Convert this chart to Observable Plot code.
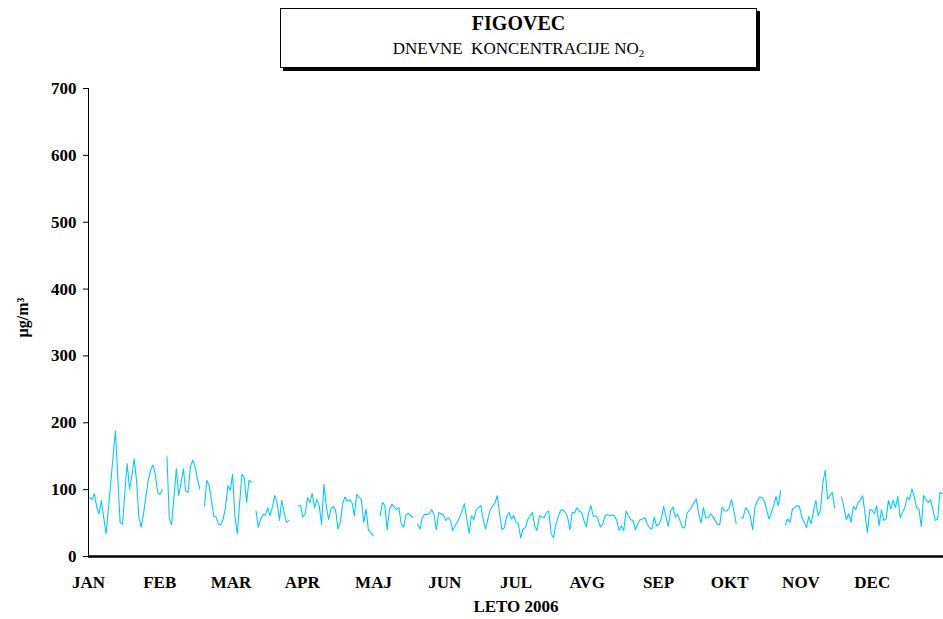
<!DOCTYPE html>
<html>
<head>
<meta charset="utf-8">
<script src="https://cdn.jsdelivr.net/npm/d3@7"></script>
<script src="https://cdn.jsdelivr.net/npm/@observablehq/plot@0.6"></script>
<style>
  html, body { margin: 0; padding: 0; background: #fff; }
  #wrap { position: relative; width: 943px; height: 619px; overflow: hidden; }
  #wrap svg { position: absolute; left: 0; top: 0; }
  #wrap svg text { font-weight: bold; }
  #titlebox {
    position: absolute; left: 280px; top: 8px; width: 475px; height: 58px;
    border: 1px solid #000; box-shadow: 3px 3px 0 #000; background: #fff;
    font-family: "Liberation Serif", "Times New Roman", serif; text-align: center; color: #000;
  }
  #titlebox .t1 { font-size: 20px; font-weight: bold; line-height: 20px; margin-top: 4px; }
  #titlebox .t2 { font-size: 17px; line-height: 17px; margin-top: 7px; }
  #titlebox sub { font-size: 11px; vertical-align: -3px; line-height: 0; }
</style>
</head>
<body>
<div id="wrap">
  <div id="titlebox">
    <div class="t1">FIGOVEC</div>
    <div class="t2">DNEVNE&nbsp; KONCENTRACIJE NO<sub>2</sub></div>
  </div>
</div>
<script>
// Daily NO2 concentrations (µg/m³), Figovec station, 2006 — one value per day, null = no measurement
const no2Daily = [
  // January / early February
  88, 85, 94, 74, 64, 84, 58, 34, 72, 110, 150, 188, 118, 51, 48, 95, 139, 101, 120, 146,
  114, 59, 44, 64, 90, 114, 129, 137, 124, 96, 93, 100,
  null,
  149, 56, 48, 90, 131, 91, 110, 131, 98, 96, 134, 144, 134, 116, 101,
  null,
  76, 114, 106, 84, 60, 59, 48, 48, 56, 74, 106, 99, 123, 61, 34, 79, 123, 118, 81, 114, 111,
  null,
  68, 44, 56, 63, 62, 73, 61, 74, 91, 81, 54, 84, 66, 51, 54,
  null, null, null,
  // April / May
  76, 76, 59, 64, 88, 81, 94, 73, 85, 76, 48, 108, 76, 55, 71, 75, 69, 41, 51, 79,
  89, 83, 85, 80, 61, 93, 89, 85, 51, 71, 39, 36, 31,
  null, null,
  61, 81, 76, 40, 71, 78, 74, 70, 73, 49, 44, 62, 65, 61, 59,
  null,
  // late May – early October
  48, 41, 58, 63, 63, 64, 70, 63, 40, 66,
  64, 62, 54, 58, 54, 39, 46, 52, 59, 69,
  79, 55, 35, 61, 55, 70, 73, 76, 55, 41,
  56, 70, 75, 80, 91, 64, 40, 43, 59, 66,
  56, 61, 51, 49, 28, 41, 43, 55, 61, 66,
  45, 39, 61, 59, 58, 66, 68, 34, 28, 48,
  59, 69, 70, 66, 59, 40, 66, 65, 73, 68,
  66, 54, 44, 66, 76, 60, 61, 56, 44, 48,
  61, 63, 61, 62, 61, 54, 39, 46, 39, 68,
  61, 55, 54, 40, 49, 55, 56, 58, 49, 43,
  41, 59, 46, 48, 56, 75, 60, 45, 68, 74,
  59, 63, 54, 43, 43, 65, 69, 74, 81, 86,
  64, 50, 73, 58, 58, 64, 60, 54, 48, 48,
  74, 68, 68, 73, 85, 69, 49,
  null,
  58, 58, 73, 69, 61, 40, 74, 83, 89, 88, 83, 70, 56, 66, 76, 90, 76, 99,
  null,
  // November / December
  48, 56, 51, 71, 73, 76, 75, 59, 51, 43, 60, 49, 68, 84, 61, 70, 110, 129, 86, 91, 96, 73,
  null, null,
  89, 73, 55, 64, 51, 75, 70, 81, 84, 91, 64, 36, 70, 69, 64, 76, 46, 70, 54, 56,
  84, 71, 84, 73, 90, 58, 66, 73, 89, 85, 101, 89, 73, 71, 45, 91, 85, 81, 85, 69,
  54, 56, 96, 94
];

const monthLabels = ["JAN", "FEB", "MAR", "APR", "MAJ", "JUN", "JUL", "AVG", "SEP", "OKT", "NOV", "DEC"];
const yTicks = [0, 100, 200, 300, 400, 500, 600, 700];
const yearDays = 365;
const yLabel = "µg/m³";
const xLabel = "LETO 2006";

// Each day sits in the middle of its slot on a 365-day axis
const series = no2Daily.map((v, i) => ({ day: i + 0.5, value: v }));
const monthTicks = monthLabels.map((_, i) => i * yearDays / 12);

const serif = "'Liberation Serif', 'Times New Roman', serif";

const chart = Plot.plot({
  width: 943,
  height: 619,
  marginLeft: 88,
  marginRight: 0,
  marginTop: 88,
  marginBottom: 63,
  style: { fontFamily: serif, background: "transparent", color: "#000", overflow: "visible" },
  x: { domain: [0, yearDays] },
  y: { domain: [0, 700] },
  marks: [
    Plot.axisY({
      ticks: yTicks, tickSize: 5, tickPadding: 7, fontSize: 17, label: null, stroke: "#000"
    }),
    Plot.axisX({
      ticks: monthTicks,
      tickFormat: d => monthLabels[Math.round(d * 12 / yearDays)],
      tickSize: 0, tickPadding: 19, fontSize: 17, label: null
    }),
    Plot.ruleX([0], { y1: 0, y2: 700, stroke: "#000", strokeWidth: 1 }),
    Plot.ruleY([0], { stroke: "#000", strokeWidth: 2.5 }),
    Plot.line(series, { x: "day", y: "value", stroke: "#00CCFF", strokeWidth: 1.1 }),
    Plot.text([yLabel], {
      frameAnchor: "left", textAnchor: "middle", dx: -66, dy: -5, rotate: -90, fontSize: 16, fill: "#000"
    }),
    Plot.text([xLabel], {
      frameAnchor: "bottom", dy: 55, fontSize: 17, fill: "#000"
    })
  ]
});

document.getElementById("wrap").prepend(chart);
</script>
</body>
</html>
